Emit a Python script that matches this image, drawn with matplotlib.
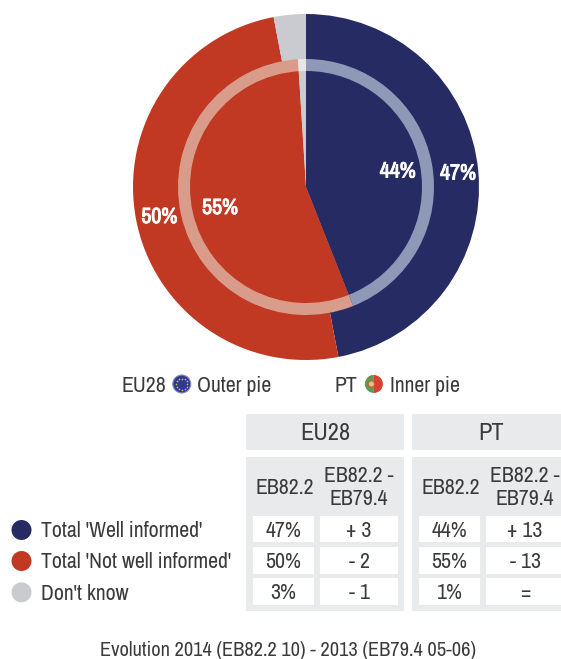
import matplotlib
matplotlib.use("Agg")
import matplotlib.pyplot as plt
import matplotlib.patheffects as pe
from matplotlib.patches import Circle, Rectangle, Wedge
import numpy as np

plt.rcParams['font.family'] = ['Archivo Narrow', 'Liberation Sans', 'DejaVu Sans']

categories = ["Total 'Well informed'", "Total 'Not well informed'", "Don't know"]
eu_values = [47, 50, 3]
pt_values = [44, 55, 1]
eu_change = ["+ 3", "- 2", "- 1"]
pt_change = ["+ 13", "- 13", "="]
col_headers = ["EB82.2", "EB82.2 -\nEB79.4"]
group_headers = ["EU28", "PT"]
footer = "Evolution 2014 (EB82.2 10) - 2013 (EB79.4 05-06)"

solid = ['#262C63', '#C13823', '#C9CBD1']
ring = ['#8E99B8', '#D99C8B', '#E6E7EA']
panel = '#E9EAEC'
ink = '#3A3A3A'

W, H = 561, 659
fig = plt.figure(figsize=(W / 100, H / 100), dpi=100)
ax = fig.add_axes([0, 0, 1, 1])
Y = lambda y: H - y

cx, cy = 306, Y(187)
for vals, colors, rad in [(eu_values, solid, 173), (pt_values, ring, 128), (pt_values, solid, 116)]:
    ax.pie(vals, colors=colors, radius=rad, center=(cx, cy), startangle=90, counterclock=False,
           frame=True, wedgeprops=dict(linewidth=0))
ax.set_xlim(0, W)
ax.set_ylim(0, H)
ax.set_aspect('auto')
ax.axis('off')

bold = [pe.withStroke(linewidth=0.7, foreground='white')]
for (x, y, v) in [(458, 173.5, eu_values[0]), (397.7, 171.5, pt_values[0]), (159.3, 217, eu_values[1]), (220, 208, pt_values[1])]:
    ax.text(x, Y(y), f"{v}%", color='white', ha='center', va='center', fontsize=15.8, path_effects=bold)

# pie captions
fs = 15.7
ax.text(166, Y(386), "EU28", ha='right', va='center', fontsize=fs, color=ink)
ax.text(197.5, Y(386), "Outer pie", ha='left', va='center', fontsize=fs, color=ink)
ax.text(357, Y(386), "PT", ha='right', va='center', fontsize=fs, color=ink)
ax.text(390.5, Y(386), "Inner pie", ha='left', va='center', fontsize=fs, color=ink)

# EU flag badge
ex, ey = 181.8, Y(384)
ax.add_patch(Circle((ex, ey), 9, fc='#2E3A8C', ec='#8A8FB8', lw=0.8))
ax.scatter(ex + 5.5 * np.cos(np.arange(12) * np.pi / 6), ey + 5.5 * np.sin(np.arange(12) * np.pi / 6),
           s=1.5, c='#C9BE55', linewidths=0)
# PT flag badge
px, py = 373.9, Y(384)
ax.add_patch(Wedge((px, py), 9, 90, 270, fc='#5E9A4E', lw=0))
ax.add_patch(Wedge((px, py), 9, -90, 90, fc='#D8402F', lw=0))
ax.add_patch(Wedge((px, py), 9, 100, 140, fc='#5E9A4E', lw=0))
ax.add_patch(Circle((px - 2.5, py), 3, fc='#E3C27A', ec='#D05A40', lw=0.6))

def box(x0, y0, x1, y1, color):
    ax.add_patch(Rectangle((x0, Y(y1)), x1 - x0, y1 - y0, fc=color, ec='none'))

row_y = [(516, 542.3), (547, 573.7), (578.3, 604.7)]
groups = [(245.8, 404.3, 252.6, 314.1, 320.2, 397.9, eu_values, eu_change),
          (412.2, 571, 418.6, 480.1, 486.2, 563.9, pt_values, pt_change)]
for name, (g0, g1, a0, a1, b0, b1, vals, chg) in zip(group_headers, groups):
    box(g0, 414.3, g1, 450, panel)
    box(g0, 457.3, g1, 610.7, panel)
    hx = 325.5 if name == 'EU28' else 491.5
    ax.text(hx, Y(433.5), name, ha='center', va='center', fontsize=17.5, color=ink)
    ax.text((a0 + a1) / 2 + 1.5, Y(488.5), col_headers[0], ha='center', va='center', fontsize=fs, color=ink)
    ax.text((b0 + b1) / 2, Y(487.5), col_headers[1], ha='center', va='center', fontsize=fs, color=ink, linespacing=1.2)
    for (r0, r1), v, c in zip(row_y, vals, chg):
        box(a0, r0, a1, r1, 'white')
        box(b0, r0, b1, r1, 'white')
        ym = (r0 + r1) / 2 + 1.5
        ax.text((a0 + a1) / 2, Y(ym), f"{v}%", ha='center', va='center', fontsize=fs, color=ink)
        ax.text((b0 + b1) / 2, Y(ym), c, ha='center', va='center', fontsize=fs, color=ink)

# legend
for c, col, y in zip(categories, solid, [530, 561, 592.3]):
    ax.add_patch(Circle((21.5, Y(y)), 10, fc=col, ec='none'))
    ax.text(41, Y(y + 1.2), c, ha='left', va='center', fontsize=fs, color=ink)

ax.text(288, Y(651), footer, ha='center', va='center', fontsize=14.7, color=ink)
fig.savefig('out.png', dpi=100, facecolor='white')
